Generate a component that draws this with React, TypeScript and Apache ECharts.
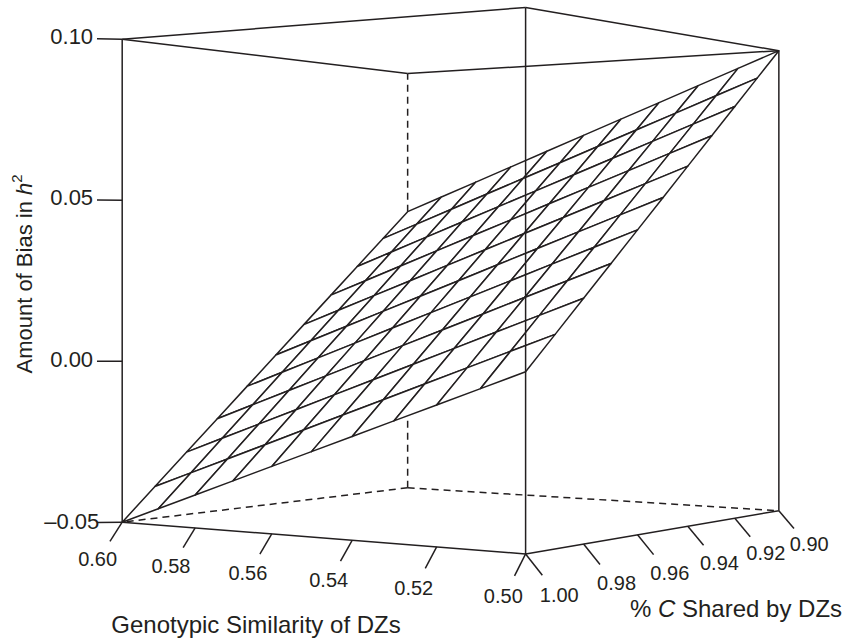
import React, { useEffect, useRef } from "react";
import * as echarts from "echarts";

// ---- data ranges of the box ----
const genoRange = [0.5, 0.6];
const sharedRange = [0.9, 1.0];
const biasRange = [-0.05, 0.1];

// ---- surface grid (rows: genotypic similarity, cols: % C shared) ----
const genoGrid = [0.6, 0.59, 0.58, 0.57, 0.56, 0.55, 0.54, 0.53, 0.52, 0.51, 0.5];
const sharedGrid = [1.0, 0.99, 0.98, 0.97, 0.96, 0.95, 0.94, 0.93, 0.92, 0.91, 0.9];
const biasValues = [
  [-0.05, -0.04, -0.03, -0.02, -0.01, 0.0, 0.01, 0.02, 0.03, 0.04, 0.05],
  [-0.045, -0.035, -0.025, -0.015, -0.005, 0.005, 0.015, 0.025, 0.035, 0.045, 0.055],
  [-0.04, -0.03, -0.02, -0.01, 0.0, 0.01, 0.02, 0.03, 0.04, 0.05, 0.06],
  [-0.035, -0.025, -0.015, -0.005, 0.005, 0.015, 0.025, 0.035, 0.045, 0.055, 0.065],
  [-0.03, -0.02, -0.01, 0.0, 0.01, 0.02, 0.03, 0.04, 0.05, 0.06, 0.07],
  [-0.025, -0.015, -0.005, 0.005, 0.015, 0.025, 0.035, 0.045, 0.055, 0.065, 0.075],
  [-0.02, -0.01, 0.0, 0.01, 0.02, 0.03, 0.04, 0.05, 0.06, 0.07, 0.08],
  [-0.015, -0.005, 0.005, 0.015, 0.025, 0.035, 0.045, 0.055, 0.065, 0.075, 0.085],
  [-0.01, 0.0, 0.01, 0.02, 0.03, 0.04, 0.05, 0.06, 0.07, 0.08, 0.09],
  [-0.005, 0.005, 0.015, 0.025, 0.035, 0.045, 0.055, 0.065, 0.075, 0.085, 0.095],
  [0.0, 0.01, 0.02, 0.03, 0.04, 0.05, 0.06, 0.07, 0.08, 0.09, 0.1],
];

// ---- ticks ----
const genoTicks = [0.6, 0.58, 0.56, 0.54, 0.52, 0.5];
const genoTickLabels = ["0.60", "0.58", "0.56", "0.54", "0.52", "0.50"];
const sharedTicks = [1.0, 0.98, 0.96, 0.94, 0.92, 0.9];
const sharedTickLabels = ["1.00", "0.98", "0.96", "0.94", "0.92", "0.90"];
const biasTicks = [0.1, 0.05, 0.0, -0.05];
const biasTickLabels = ["0.10", "0.05", "0.00", "\u20130.05"];

// ---- styling / view ----
const INK = "#231f20";
const FONT = '"Liberation Sans", Arial, Helvetica, sans-serif';
const W = 848;
const H = 639;
const LW = 1.5;
const VIEW = { theta: (35 * Math.PI) / 180, dist: 10.11, tick: 0.073 };
const SCREEN = { cx: 458.5, cy: 280.7, scale: 2382 };

const norm = (v: number, r: number[]) => (2 * (v - r[0])) / (r[1] - r[0]) - 1;

function camera(px: number, py: number, pz: number) {
  const c = Math.cos(VIEW.theta);
  const s = Math.sin(VIEW.theta);
  const X = -c * px - s * py;
  const depth = VIEW.dist + s * px - c * py;
  return { u: X / depth, v: pz / depth, depth };
}
function proj(p: number[]): number[] {
  const r = camera(p[0], p[1], p[2]);
  return [r.u, r.v];
}
const seg = (a: number[], b: number[]) => [...proj(a), ...proj(b)];

function buildScene() {
  const T = VIEW.tick;
  const hidden = [
    seg([1, -1, -1], [1, -1, 1]),
    seg([1, -1, -1], [1, 1, -1]),
    seg([1, -1, -1], [-1, -1, -1]),
  ];
  const front = [
    seg([1, 1, -1], [1, 1, 1]),
    seg([-1, 1, -1], [-1, 1, 1]),
    seg([-1, -1, -1], [-1, -1, 1]),
    seg([1, 1, -1], [-1, 1, -1]),
    seg([-1, 1, -1], [-1, -1, -1]),
    seg([1, 1, 1], [-1, 1, 1]),
    seg([-1, 1, 1], [-1, -1, 1]),
    seg([-1, -1, 1], [1, -1, 1]),
    seg([1, -1, 1], [1, 1, 1]),
  ];
  const labels: { pos: number[]; text: string; size: number }[] = [];
  genoTicks.forEach((g, i) => {
    const x = norm(g, genoRange);
    front.push(seg([x, 1, -1], [x, 1 + T, -1 - T]));
    labels.push({ pos: proj([x, 1 + 2 * T, -1 - 2 * T]), text: genoTickLabels[i], size: 20 });
  });
  sharedTicks.forEach((c, i) => {
    const y = norm(c, sharedRange);
    front.push(seg([-1, y, -1], [-1 - T, y, -1 - T]));
    labels.push({ pos: proj([-1 - 2 * T, y, -1 - 2 * T]), text: sharedTickLabels[i], size: 20 });
  });
  biasTicks.forEach((b, i) => {
    const z = norm(b, biasRange);
    front.push(seg([1, 1, z], [1 + T, 1 + T, z]));
    labels.push({ pos: proj([1 + 2 * T, 1 + 2 * T, z]), text: biasTickLabels[i], size: 22 });
  });

  const cells: { d: number; pts: number[] }[] = [];
  for (let i = 0; i < genoGrid.length - 1; i++) {
    for (let j = 0; j < sharedGrid.length - 1; j++) {
      const corners = [
        [i, j],
        [i + 1, j],
        [i + 1, j + 1],
        [i, j + 1],
      ].map(([a, b]) => [
        norm(genoGrid[a], genoRange),
        norm(sharedGrid[b], sharedRange),
        norm(biasValues[a][b], biasRange),
      ]);
      let d = 0;
      const pts: number[] = [];
      corners.forEach((p) => {
        const r = camera(p[0], p[1], p[2]);
        d += r.depth / 4;
        pts.push(r.u, r.v);
      });
      cells.push({ d, pts });
    }
  }
  cells.sort((a, b) => b.d - a.d);
  return { hidden, front, labels, cells: cells.map((c) => c.pts) };
}

function lineSeries(data: number[][], dashed: boolean, z: number) {
  return {
    type: "custom",
    coordinateSystem: "cartesian2d",
    silent: true,
    z,
    encode: { x: 0, y: 1 },
    data,
    renderItem: (_p: any, api: any) => {
      const a = api.coord([api.value(0), api.value(1)]);
      const b = api.coord([api.value(2), api.value(3)]);
      return {
        type: "line",
        shape: { x1: a[0], y1: a[1], x2: b[0], y2: b[1] },
        style: {
          stroke: INK,
          lineWidth: LW,
          lineDash: dashed ? [7, 5] : null,
          fill: null,
        },
      };
    },
  };
}

export default function App() {
  const ref = useRef<HTMLDivElement>(null);
  useEffect(() => {
    if (!ref.current) return;
    const chart = echarts.init(ref.current, null, { renderer: "svg" });
    const scene = buildScene();
    const option: any = {
      animation: false,
      backgroundColor: "#ffffff",
      grid: { left: 0, right: 0, top: 0, bottom: 0, containLabel: false },
      xAxis: {
        type: "value",
        min: -SCREEN.cx / SCREEN.scale,
        max: (W - SCREEN.cx) / SCREEN.scale,
        show: false,
      },
      yAxis: {
        type: "value",
        min: -(H - SCREEN.cy) / SCREEN.scale,
        max: SCREEN.cy / SCREEN.scale,
        show: false,
      },
      series: [
        lineSeries(scene.hidden, true, 1),
        {
          type: "custom",
          coordinateSystem: "cartesian2d",
          silent: true,
          z: 2,
          encode: { x: 0, y: 1 },
          data: scene.cells,
          renderItem: (_p: any, api: any) => {
            const pts = [];
            for (let k = 0; k < 4; k++) {
              pts.push(api.coord([api.value(2 * k), api.value(2 * k + 1)]));
            }
            return {
              type: "polygon",
              shape: { points: pts },
              style: { fill: "#ffffff", stroke: INK, lineWidth: LW, lineJoin: "round" },
            };
          },
        },
        lineSeries(scene.front, false, 3),
        {
          type: "custom",
          coordinateSystem: "cartesian2d",
          silent: true,
          z: 4,
          encode: { x: 0, y: 1 },
          data: scene.labels.map((l) => l.pos),
          renderItem: (params: any, api: any) => {
            const p = api.coord([api.value(0), api.value(1)]);
            const item = scene.labels[params.dataIndex];
            return {
              type: "text",
              x: p[0],
              y: p[1] - 2,
              style: {
                text: item.text,
                fill: INK,
                font: `${item.size}px ${FONT}`,
                align: "center",
                verticalAlign: "middle",
              },
            };
          },
        },
      ],
      graphic: [
        {
          type: "text",
          x: 256,
          y: 624,
          silent: true,
          style: {
            text: "Genotypic Similarity of DZs",
            fill: INK,
            font: `24px ${FONT}`,
            align: "center",
            verticalAlign: "middle",
          },
        },
        {
          type: "text",
          x: 736,
          y: 608,
          silent: true,
          style: {
            text: "{n|% }{i|C}{n| Shared by DZs}",
            fill: INK,
            align: "center",
            verticalAlign: "middle",
            rich: {
              n: { font: `24px ${FONT}`, fill: INK },
              i: { font: `italic 24px ${FONT}`, fill: INK },
            },
          },
        },
        {
          type: "text",
          x: 24,
          y: 274,
          rotation: Math.PI / 2,
          silent: true,
          style: {
            text: "{n|Amount of Bias in }{i|h}{s|2}",
            fill: INK,
            align: "center",
            verticalAlign: "middle",
            rich: {
              n: { font: `22px ${FONT}`, fill: INK, lineHeight: 30 },
              i: { font: `italic 22px ${FONT}`, fill: INK, lineHeight: 30 },
              s: { font: `15px ${FONT}`, fill: INK, verticalAlign: "top" },
            },
          },
        },
      ],
    };
    chart.setOption(option);
    return () => chart.dispose();
  }, []);
  return (
    <div
      ref={ref}
      style={{ position: "absolute", left: 0, top: 0, width: W, height: H, background: "#fff" }}
    />
  );
}
